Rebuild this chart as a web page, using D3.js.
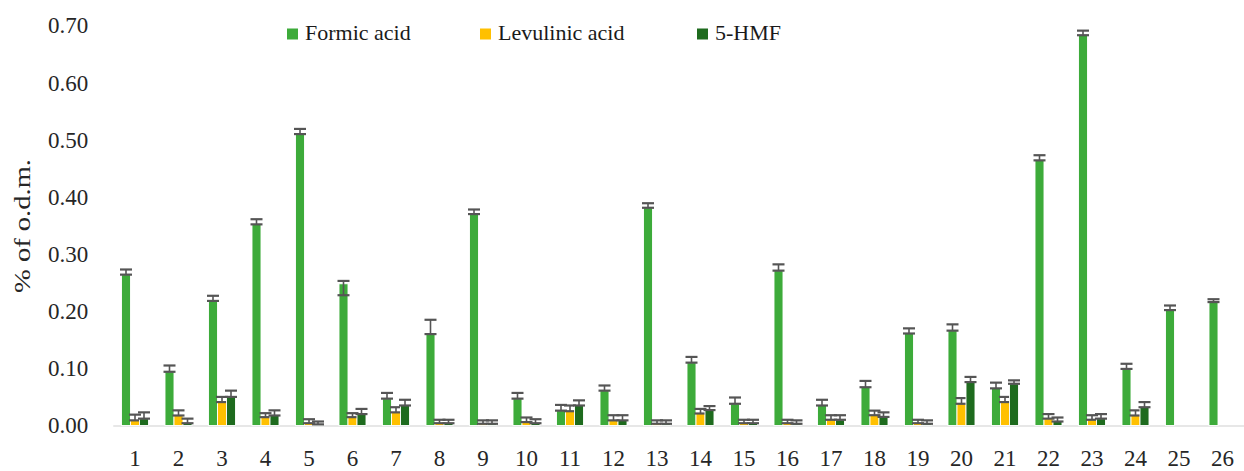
<!DOCTYPE html>
<html>
<head>
<meta charset="utf-8">
<script src="https://cdn.jsdelivr.net/npm/d3@7/dist/d3.min.js"></script>
<style>
  html, body { margin: 0; padding: 0; background: #fff; }
  svg { display: block; }
  text { font-family: "Liberation Serif", "DejaVu Serif", serif; }
</style>
</head>
<body>
<svg id="chart" width="1244" height="471"></svg>
<script>
// ---- data ----
const categories = ["1","2","3","4","5","6","7","8","9","10","11","12","13","14","15","16","17","18","19","20","21","22","23","24","25","26"];
const seriesNames = ["Formic acid", "Levulinic acid", "5-HMF"];
const yTicks = [0, 0.1, 0.2, 0.3, 0.4, 0.5, 0.6, 0.7];

const formic = [0.264, 0.094, 0.218, 0.352, 0.510, 0.248, 0.047, 0.160, 0.370, 0.047, 0.026, 0.061, 0.381,
                0.110, 0.038, 0.271, 0.035, 0.067, 0.161, 0.166, 0.065, 0.464, 0.683, 0.099, 0.202, 0.216];
const formicErr = [0.009, 0.011, 0.009, 0.009, 0.009, 0.005, 0.010, 0.025, 0.008, 0.010, 0.010, 0.009, 0.008,
                   0.010, 0.011, 0.011, 0.010, 0.011, 0.009, 0.011, 0.010, 0.009, 0.008, 0.009, 0.008, 0.005];
const formicErrLow = [0, 0, 0, 0, 0, 0.020, 0, 0, 0, 0, 0, 0, 0,
                      0, 0, 0, 0, 0, 0, 0, 0, 0, 0, 0, 0, 0];

const levulinic = [0.009, 0.0175, 0.041, 0.0146, 0.004, 0.0146, 0.023, 0.004, 0.003, 0.006, 0.025, 0.009, 0.003,
                   0.021, 0.004, 0.004, 0.010, 0.018, 0.004, 0.038, 0.041, 0.012, 0.010, 0.0175, null, null];
const levulinicErr = [0.010, 0.009, 0.009, 0.007, 0.007, 0.007, 0.009, 0.006, 0.006, 0.008, 0.010, 0.009, 0.006,
                      0.008, 0.006, 0.006, 0.008, 0.008, 0.006, 0.010, 0.009, 0.008, 0.008, 0.009, null, null];

const hmf = [0.012, 0.004, 0.050, 0.0175, 0.002, 0.020, 0.035, 0.004, 0.003, 0.004, 0.035, 0.009, 0.003,
             0.027, 0.004, 0.003, 0.010, 0.015, 0.003, 0.076, 0.073, 0.007, 0.012, 0.032, null, null];
const hmfErr = [0.011, 0.008, 0.011, 0.009, 0.005, 0.009, 0.010, 0.006, 0.006, 0.007, 0.009, 0.009, 0.006,
                0.007, 0.006, 0.006, 0.008, 0.008, 0.006, 0.009, 0.006, 0.007, 0.008, 0.009, null, null];

const colors = ["#3dab3a", "#ffc000", "#1e6b1e"];

// ---- layout ----
const svg = d3.select("#chart");
const plotLeft = 113.25, plotRight = 1244.25;
const yTop = 25.5, yBottom = 425.5;

const x = d3.scaleBand().domain(categories).range([plotLeft, plotRight]).paddingInner(0).paddingOuter(0);
const xs = d3.scaleBand().domain(seriesNames).range([-13.5, 13.5]).padding(0);
const y = d3.scaleLinear().domain([0, 0.7]).range([yBottom, yTop]);

// baseline
svg.append("line")
  .attr("x1", plotLeft).attr("x2", plotRight)
  .attr("y1", yBottom + 0.5).attr("y2", yBottom + 0.5)
  .attr("stroke", "#d0d0d0").attr("stroke-width", 1.2);

// y axis
const yAxis = d3.axisLeft(y).tickValues(yTicks).tickSize(0).tickPadding(25).tickFormat(d3.format(".2f"));
const gy = svg.append("g").attr("transform", `translate(${plotLeft},0)`).call(yAxis);
gy.select(".domain").remove();
gy.selectAll("text").attr("font-size", 23).attr("fill", "#262626")
  .attr("font-family", "Liberation Serif, serif");

// x axis
const xAxis = d3.axisBottom(x).tickSize(0).tickPadding(24);
const gx = svg.append("g").attr("transform", `translate(0,${yBottom})`).call(xAxis);
gx.select(".domain").remove();
gx.selectAll("text").attr("font-size", 23).attr("fill", "#262626")
  .attr("font-family", "Liberation Serif, serif");

// y title
svg.append("text")
  .attr("transform", "translate(30,226) rotate(-90)")
  .attr("text-anchor", "middle")
  .attr("font-size", 24)
  .attr("fill", "#262626")
  .attr("textLength", 134).attr("lengthAdjust", "spacingAndGlyphs")
  .text("% of o.d.m.");

// bars
const seriesData = [
  { name: seriesNames[0], values: formic, err: formicErr, low: formicErrLow, color: colors[0] },
  { name: seriesNames[1], values: levulinic, err: levulinicErr, low: null, color: colors[1] },
  { name: seriesNames[2], values: hmf, err: hmfErr, low: null, color: colors[2] }
];

const barW = xs.bandwidth();
seriesData.forEach(s => {
  const pts = categories.map((c, i) => ({ c, v: s.values[i], e: s.err[i], lo: s.low ? s.low[i] : 0 }))
    .filter(d => d.v != null);
  const g = svg.append("g");
  g.selectAll("rect").data(pts).join("rect")
    .attr("x", d => x(d.c) + x.bandwidth() / 2 + xs(s.name))
    .attr("width", barW)
    .attr("y", d => y(d.v))
    .attr("height", d => y(0) - y(d.v))
    .attr("fill", s.color)
    .attr("stroke", "#ffffff").attr("stroke-width", 0.9);

  const eg = svg.append("g").attr("stroke", "#555555");
  const cx = d => x(d.c) + x.bandwidth() / 2 + xs(s.name) + barW / 2;
  const capHalf = 6;
  eg.selectAll("line.v").data(pts).join("line").attr("class", "v")
    .attr("x1", cx).attr("x2", cx)
    .attr("y1", d => y(d.v - d.lo)).attr("y2", d => y(d.v + d.e))
    .attr("stroke-width", 1.6);
  eg.selectAll("line.t").data(pts).join("line").attr("class", "t")
    .attr("x1", d => cx(d) - capHalf).attr("x2", d => cx(d) + capHalf)
    .attr("y1", d => y(d.v + d.e)).attr("y2", d => y(d.v + d.e))
    .attr("stroke-width", 2.2);
  eg.selectAll("line.b").data(pts).join("line").attr("class", "b")
    .attr("x1", d => cx(d) - capHalf).attr("x2", d => cx(d) + capHalf)
    .attr("y1", d => y(d.v - d.lo)).attr("y2", d => y(d.v - d.lo))
    .attr("stroke-width", 2.2);
});

// legend
const legendX = [287, 480, 697];
const lg = svg.append("g");
seriesNames.forEach((n, i) => {
  lg.append("rect").attr("x", legendX[i]).attr("y", 28.5).attr("width", 11).attr("height", 11)
    .attr("fill", colors[i]);
  lg.append("text").attr("x", legendX[i] + 18).attr("y", 40)
    .attr("font-size", 22).attr("fill", "#1a1a1a").text(n);
});
</script>
</body>
</html>
